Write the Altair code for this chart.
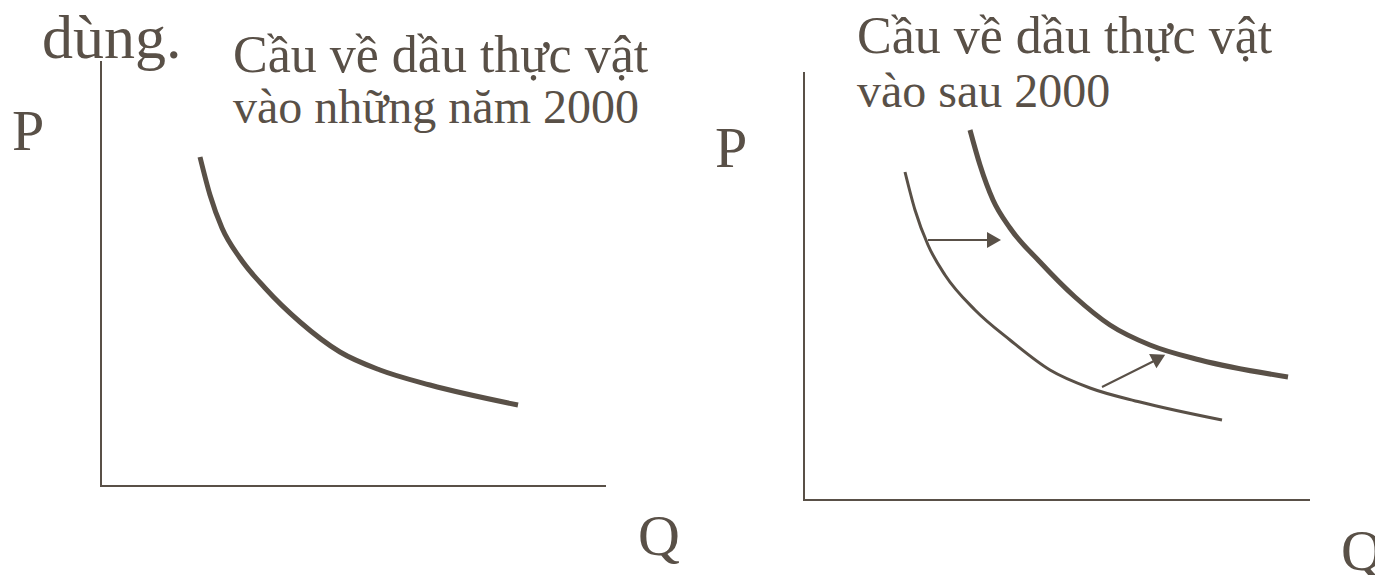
import altair as alt
import pandas as pd

# Diagram coordinates: q to the right, p upward (chart units)
left_q = [200, 210, 222, 240, 265, 300, 340, 380, 430, 518]
left_p = [426, 388, 355, 325, 295, 261, 231, 213, 198, 178]

new_q = [970, 980, 993, 1010, 1040, 1075, 1110, 1150, 1200, 1288]
new_p = [453, 418, 383, 355, 321, 286, 258, 238, 223, 206]

old_q = [905, 915, 928, 945, 975, 1010, 1050, 1090, 1140, 1222]
old_p = [411, 373, 338, 308, 273, 243, 213, 195, 181, 163]

# axes segments: x, y, x2, y2
axis_x1 = [101, 100, 804, 803]
axis_y1 = [97, 97, 83, 83]
axis_x2 = [101, 606, 804, 1310]
axis_y2 = [522, 97, 511, 83]

# shift arrows
arrow_x1 = [928, 1102]
arrow_y1 = [343, 196]
arrow_x2 = [990, 1156]
arrow_y2 = [343, 223]
head_x = [994, 1159]
head_y = [343, 225]
head_angle = [0, 333]

labels = ["dùng.", "Cầu về dầu thực vật", "vào những năm 2000",
          "Cầu về dầu thực vật", "vào sau 2000", "P", "P", "Q", "Q"]
label_x = [42, 233, 233, 857, 857, 12, 715, 638, 1341]
label_y = [525, 511, 460, 530, 476, 433, 416, 28, 13]
label_size = [62, 52, 48, 52, 48, 58, 58, 58, 58]

COLOR = "#595047"
FONT = "Liberation Serif"

xs = alt.Scale(domain=[8, 1375], nice=False, zero=False)
ys = alt.Scale(domain=[8, 575], nice=False, zero=False)
X = lambda f: alt.X(f, type="quantitative", scale=xs, axis=None)
Y = lambda f: alt.Y(f, type="quantitative", scale=ys, axis=None)

curves = pd.concat([
    pd.DataFrame({"q": left_q, "p": left_p, "curve": "left", "w": 5}),
    pd.DataFrame({"q": new_q, "p": new_p, "curve": "new", "w": 5}),
    pd.DataFrame({"q": old_q, "p": old_p, "curve": "old", "w": 3}),
])
curves["order"] = range(len(curves))

curve_layer = alt.Chart(curves).mark_line(
    interpolate="monotone", color=COLOR, strokeCap="butt"
).encode(
    x=X("q"), y=Y("p"), detail="curve:N", order="order:Q",
    strokeWidth=alt.StrokeWidth("w:Q", scale=None, legend=None),
)

axes_df = pd.DataFrame({"x": axis_x1, "y": axis_y1, "x2": axis_x2, "y2": axis_y2})
axes_layer = alt.Chart(axes_df).mark_rule(color=COLOR, strokeWidth=2).encode(
    x=X("x"), y=Y("y"), x2="x2:Q", y2="y2:Q"
)

arr_df = pd.DataFrame({"x": arrow_x1, "y": arrow_y1, "x2": arrow_x2, "y2": arrow_y2})
arr_layer = alt.Chart(arr_df).mark_rule(color=COLOR, strokeWidth=2).encode(
    x=X("x"), y=Y("y"), x2="x2:Q", y2="y2:Q"
)

head_df = pd.DataFrame({"x": head_x, "y": head_y, "a": head_angle})
head_layer = alt.Chart(head_df).mark_point(
    shape="triangle-right", filled=True, color=COLOR, opacity=1, size=260
).encode(
    x=X("x"), y=Y("y"), angle=alt.Angle("a:Q", scale=None)
)

text_df = pd.DataFrame({"t": labels, "x": label_x, "y": label_y, "s": label_size})
text_layer = alt.Chart(text_df).mark_text(
    align="left", baseline="alphabetic", font=FONT, color=COLOR
).encode(
    x=X("x"), y=Y("y"), text="t:N",
    size=alt.Size("s:Q", scale=None, legend=None),
)

chart = alt.layer(axes_layer, curve_layer, arr_layer, head_layer, text_layer).properties(
    width=1367, height=567, padding=0, background="white",
    autosize=alt.AutoSizeParams(type="none")
).configure_view(strokeWidth=0)

chart.save("out.html", embed_options={"renderer": "svg", "actions": False})
